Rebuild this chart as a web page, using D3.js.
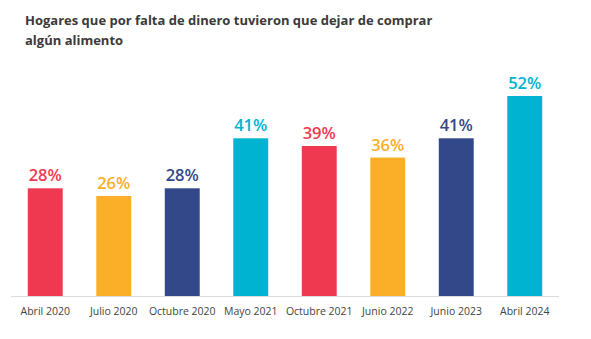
<!DOCTYPE html>
<html>
<head>
<meta charset="utf-8">
<script src="https://cdn.jsdelivr.net/npm/d3@7"></script>
<style>
  body { margin: 0; background: #fff; }
  .title { font-family: "Open Sans", sans-serif; font-weight: 700; font-size: 13px; fill: #3a3a3a; }
  .bar-value { font-family: "Open Sans", sans-serif; font-weight: 600; font-size: 16.5px; }
  .axis-text { font-family: "Open Sans", sans-serif; font-size: 10.5px; fill: #444; }
</style>
</head>
<body>
<svg id="chart" width="591" height="339"></svg>
<script>

////////////////////////// DATA //////////////////////////

const periods = ['Abril 2020', 'Julio 2020', 'Octubre 2020', 'Mayo 2021',
                 'Octubre 2021', 'Junio 2022', 'Junio 2023', 'Abril 2024']
const shares = [28, 26, 28, 41, 39, 36, 41, 52]
const barColors = ['#EF3950', '#FBAE28', '#324888', '#00B3D1',
                   '#EF3950', '#FBAE28', '#324888', '#00B3D1']
const titleLines = ['Hogares que por falta de dinero tuvieron que dejar de comprar',
                    'algún alimento']

////////////////////////// SETUP //////////////////////////

const svg = d3.select('#chart')
const baseY = 296

const data = periods.map((p, i) => ({ period: p, value: shares[i], color: barColors[i] }))

const xScale = d3.scaleBand()
  .domain(periods)
  .range([11, 559])
  .paddingInner(0.49)
  .paddingOuter(0.245)

const yScale = d3.scaleLinear()
  .domain([0, 52])
  .range([baseY, 96])

// title
svg.selectAll('.title')
  .data(titleLines)
  .enter()
  .append('text')
  .attr('class', 'title')
  .attr('x', 25)
  .attr('y', (d, i) => 25 + i * 20)
  .text(d => d)

// baseline
svg.append('line')
  .attr('x1', 11).attr('x2', 559)
  .attr('y1', baseY + 0.5).attr('y2', baseY + 0.5)
  .attr('stroke', '#dcdcdc')

// x axis labels
const xAxis = d3.axisBottom(xScale).tickSize(0).tickPadding(12)
const gx = svg.append('g')
  .attr('transform', `translate(0,${baseY})`)
  .call(xAxis)
gx.select('.domain').remove()
gx.selectAll('text')
  .attr('class', 'axis-text')
  .attr('font-family', null)
  .attr('font-size', null)

// bars
svg.selectAll('.bar')
  .data(data)
  .enter()
  .append('rect')
  .attr('class', 'bar')
  .attr('x', d => xScale(d.period))
  .attr('y', d => yScale(d.value))
  .attr('width', xScale.bandwidth())
  .attr('height', d => baseY - yScale(d.value))
  .style('fill', d => d.color)

// values on bars
svg.selectAll('.bar-value')
  .data(data)
  .enter()
  .append('text')
  .attr('class', 'bar-value')
  .attr('x', d => xScale(d.period) + xScale.bandwidth() / 2)
  .attr('y', d => yScale(d.value) - 7)
  .attr('text-anchor', 'middle')
  .style('fill', d => d.color)
  .text(d => `${d.value}%`)

</script>
</body>
</html>
